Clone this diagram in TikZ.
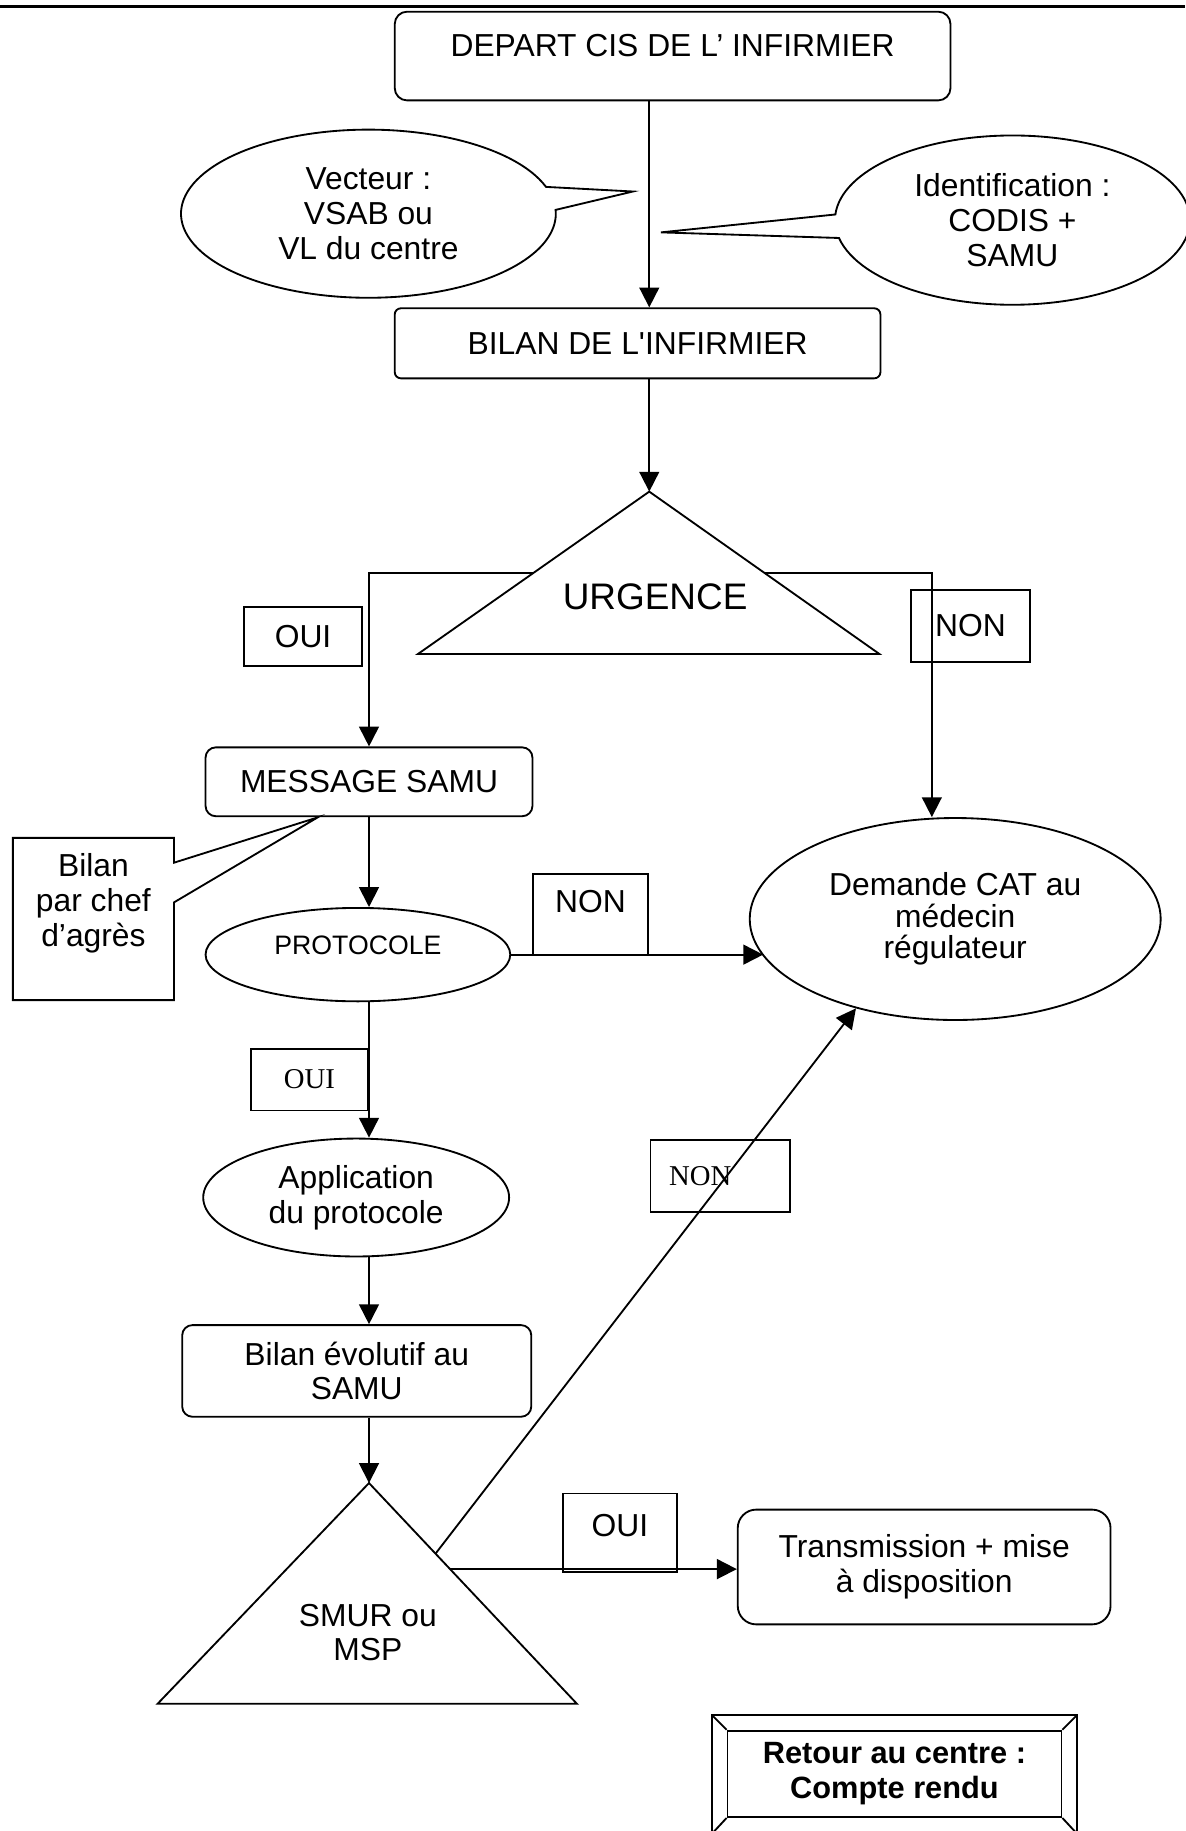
\documentclass[tikz,border=0pt]{standalone}
\usepackage{fontspec}
\setmainfont{Liberation Sans}
\newfontfamily\timesfont{Liberation Serif}
\usetikzlibrary{arrows.meta,calc,positioning,shapes.geometric,shapes.callouts}
\newcommand{\fs}[1]{\fontsize{#1}{17}\selectfont}
\tikzset{box/.style={draw,rounded corners=4pt,align=center,inner sep=2pt},
  tag/.style={draw,align=center,inner sep=2pt},
  oval/.style={draw,ellipse,align=center,inner sep=0pt},
  bulle/.style={draw,ellipse callout,align=center,inner sep=0pt,callout pointer arc=16},
  arr/.style={-{Triangle[length=3.4mm,width=3.4mm]}}}

\begin{document}
\begin{tikzpicture}[x=0.02cm,y=-0.02cm,font=\fs{15.5},line width=0.9pt]
\useasboundingbox (0,0) rectangle (1015,1568);
\draw[line width=1.6pt] (0,5.5) -- (1015,5.5);
\coordinate (spine) at (556,0);
\coordinate (lspine) at (316,0);
% depart et bilan
\node[box,rounded corners=6pt,minimum width=9.52cm,minimum height=1.52cm,text depth=0.38cm] (depart) at (576,48) {DEPART CIS DE L’ INFIRMIER};
\node[box,rounded corners=3pt,minimum width=8.32cm,minimum height=1.2cm] (bilan) at (546,294) {BILAN DE L\textquotesingle INFIRMIER};
\draw[arr] (depart.south -| spine) -- (bilan.north -| spine);
\node[bulle,minimum width=6.42cm,minimum height=2.88cm,callout absolute pointer={(542,164)}] (vecteur) at (315.5,183) {Vecteur :\\VSAB ou\\VL du centre};
\node[bulle,minimum width=6.08cm,minimum height=2.9cm,callout absolute pointer={(566,199)}] (ident) at (867,188.5) {Identification :\\CODIS +\\SAMU};
% urgence
\coordinate (urgtop) at (556,421);
\coordinate (urgl) at (358,560);
\coordinate (urgr) at (753,560);
\draw (urgtop) -- (urgr) -- (urgl) -- cycle;
\node[font=\fs{18}] (urgtxt) at (561,511) {URGENCE};
\draw[arr] (bilan.south -| spine) -- (urgtop);
\node[tag,minimum width=2.02cm,minimum height=1cm] (oui1) at (259.5,545) {OUI};
\node[tag,minimum width=2.04cm,minimum height=1.24cm] (non1) at (831,536) {NON};
\node[box,rounded corners=5pt,minimum width=5.6cm,minimum height=1.18cm] (message) at (316,669.5) {MESSAGE SAMU};
\node[oval,minimum width=7.04cm,minimum height=3.46cm,font=\fontsize{15.5}{15.4}\selectfont] (dem) at (818,787) {Demande CAT au\\médecin\\régulateur};
\draw[arr] ($(urgtop)!.5!(urgl)$) -| (message.north);
\draw[arr] ($(urgtop)!.5!(urgr)$) -| ($(dem.north)+(-20,0)$);
\node[draw,rectangle callout,align=center,inner sep=0pt,minimum width=2.76cm,minimum height=2.78cm,text depth=0.64cm,callout absolute pointer={(272,700)},callout pointer width=0.68cm] (chef) at (80,787) {Bilan\\par chef\\d’agrès};
% protocole
\node[oval,minimum width=5.22cm,minimum height=1.6cm,font=\fs{13},text depth=0.32cm] (proto) at (306.5,817.5) {PROTOCOLE};
\draw[arr] (message.south -| lspine) -- (proto.north -| lspine);
\node[tag,minimum width=1.966cm,minimum height=1.386cm,text depth=0.456cm] (non2) at (505.7,783.4) {NON};
\draw[arr] (proto.east) -- (proto.east -| dem.191);
\node[tag,font=\timesfont\fs{14},minimum width=2cm,minimum height=1.06cm] (oui2) at (265,924.5) {OUI};
\node[oval,minimum width=5.24cm,minimum height=2.02cm] (app) at (305,1025.5) {Application\\du protocole};
\draw[arr] (proto.south -| lspine) -- (app.north -| lspine);
\node[box,rounded corners=5pt,minimum width=5.98cm,minimum height=1.57cm] (evol) at (305.5,1174) {Bilan évolutif au\\SAMU};
\draw[arr] (app.south -| lspine) -- (evol.north -| lspine);
% smur ou msp
\coordinate (smurtop) at (316,1270);
\coordinate (smurl) at (135,1459);
\coordinate (smurr) at (494,1459);
\draw (smurtop) -- (smurr) -- (smurl) -- cycle;
\node[align=center] (smurtxt) at (315,1398) {SMUR ou\\MSP};
\draw[arr] (evol.south -| lspine) -- (smurtop);
\node[tag,font=\timesfont\fs{14},align=left,text width=1.754cm,inner xsep=0.32cm,inner ysep=0pt,minimum height=1.23cm] (non3) at (616.9,1007.3) {NON};
\coordinate (smurdiag) at ($(smurtop)!.32!(smurr)$);
\draw[arr] (smurdiag) -- (dem.222);
\node[tag,minimum width=1.952cm,minimum height=1.34cm,text depth=0.24cm] (oui3) at (530.8,1312.5) {OUI};
\node[box,rounded corners=9pt,minimum width=6.386cm,minimum height=1.966cm] (trans) at (791.4,1341.9) {Transmission + mise\\à disposition};
\coordinate (smuroui) at ($(smurtop)!.39!(smurr)$);
\draw[arr] (smuroui) -- (smuroui -| trans.west);
% retour
\node[draw,align=center,font=\fs{15}\bfseries,minimum width=5.72cm,minimum height=1.48cm] (retour) at (766,1519) {Retour au centre :\\Compte rendu};
\draw (610,1469) rectangle (922,1570);
\foreach \a/\p in {north west/{610,1469},north east/{922,1469},south east/{922,1570},south west/{610,1570}}
  \draw (retour.\a) -- (\p);
\end{tikzpicture}
\end{document}
